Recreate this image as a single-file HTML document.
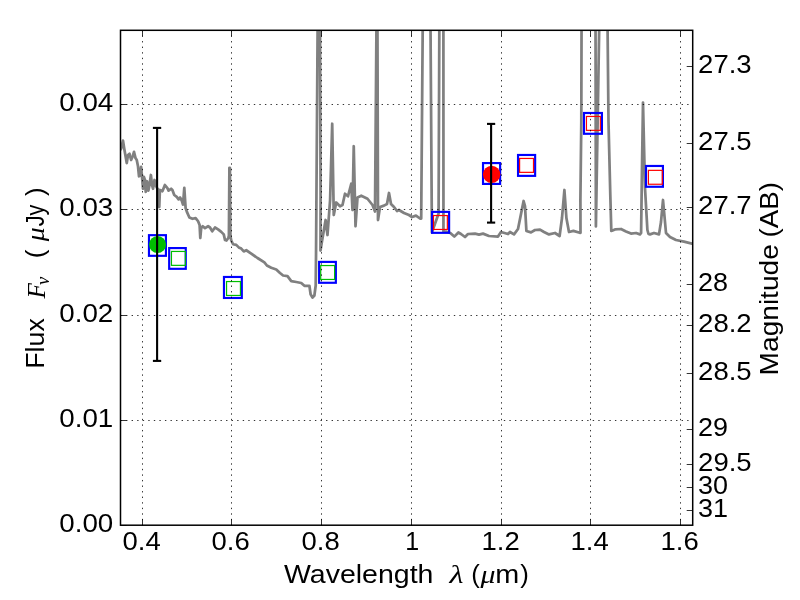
<!DOCTYPE html>
<html lang="en"><head><meta charset="utf-8"><title>SED plot</title>
<style>html,body{margin:0;padding:0;background:#fff;}body{width:800px;height:600px;overflow:hidden;}svg{display:block;will-change:transform;}text{font-family:"Liberation Sans",sans-serif;fill:#000;}.it{font-family:"Liberation Serif",serif;font-style:italic;}</style></head><body>
<svg width="800" height="600" viewBox="0 0 800 600">
<rect x="0" y="0" width="800" height="600" fill="#ffffff"/>
<defs><clipPath id="ax"><rect x="120.5" y="30.3" width="572.2" height="494.9"/></clipPath></defs>
<g clip-path="url(#ax)">
<polyline fill="none" stroke="#808080" stroke-width="2.75" stroke-linejoin="round" stroke-linecap="butt" points="120.3,150 121.1,148.75 123,140.6 124.25,148.75 126.75,163.1 128,155 129.5,153.75 131.1,160 132.75,156.25 134,151.9 135.5,158.1 136.75,160 138,166.25 139,176.25 140.25,175.6 141.1,166.9 142.1,177.5 143,188.75 143.9,176.9 144.9,180 145.75,191.9 147,181.25 148.4,190.6 149.5,185 150.9,175 152,185 153,188.75 154.5,180 155.5,185 157,188 158.5,190 159.25,207 159.9,190 162.4,191.25 164.9,185 167.4,188.1 168.6,190.6 171.1,188.75 172.4,190 174.25,195 176.75,196.9 178.6,199.4 180.1,197.5 181.75,200.6 183,204.5 184.3,187.9 185.6,208 186.9,211.9 189.4,217.5 192.5,218.75 195.6,218.1 198.1,221.25 199.6,225 200.3,238 201.2,228 202.75,226.25 205,228.1 208.1,226.25 210,227.5 212.25,231.25 215,227.5 218.1,229.4 221.25,231.9 223.75,234.4 225,240 226.5,240.5 228.3,238 228.9,236 229.4,167.8 229.9,167.8 230.4,236 231.25,240.5 233.1,244.25 236.25,244.9 238.75,247.4 241.25,248.6 243.75,251.4 246.25,250.25 251.25,253.6 257.5,258 264.4,262.4 266.9,265.5 271.25,267.75 276.25,269.5 280,273 283.1,275.5 287.5,276.1 291.25,281.1 296.25,282 301.25,283 304.4,285.75 309.4,285.75 310.6,294.25 312.5,297.6 314.4,295.5 315.7,285.5 316.05,253 316.45,195 317.4,60 317.75,10 320.0,10 320.1,60 320.6,195 320.5,250.5 321.7,243 325.6,220 327.5,235 330.1,200 332.2,123.75 333.75,215 336.25,202.5 340,206.25 342.5,205 345,193.75 348,196.25 351.25,183.75 352.5,210 353.75,146.25 355.5,226.25 357.5,197.5 361.25,195.75 367.5,198.75 372.5,205 375,211.5 376.6,10 377.4,10 378,220 380,207 384,205.6 387,204 389,193 391,204 394,207 397,211 399,210 404,213 409,215 412,217 416,215.6 420,218.5 421.2,218.5 422.85,10 430.4,10 431.9,232.5 438.6,213.5 439.4,10 443.4,10 443.45,231.5 446,231.5 450.3,233 454.3,236.6 458.4,232.5 461,234 465,237 468,234 475,233.6 479,234.6 483,233.6 489,236 498,236.6 501,232 508,234 510,232 514,234.4 518,229 521,214 523.6,201 525,206 526.4,231 531,232.4 535,230 540,229.6 544,232 549,234.4 555,233 559.6,236 562,218 564.4,190 566.4,218 569,232 573.4,230.9 579.75,232.75 580.5,232.75 580.4,200 581.3,122 581.6,10 595.5,10 595.9,226.4 599.5,10 607.4,10 608.5,122 610.3,195 611.3,230.9 615,229.4 621,229 626,231.4 631,233.6 636,233 640,234.4 641.1,233 641.9,175 643,102.6 645,188 647.4,230 648.5,234 650,234.4 654,233 659,234.4 661,222 663,200 665,222 666,233 670,237 676,240 684,241.6 693,243.8"/>
</g>
<g clip-path="url(#ax)" fill="none">
<rect x="148.97" y="235.17" width="16.95" height="20.65" stroke="#0000ff" stroke-width="2.15"/>
<rect x="169.17" y="248.07" width="16.60" height="20.75" stroke="#0000ff" stroke-width="2.15"/>
<rect x="223.97" y="276.97" width="17.85" height="21.00" stroke="#0000ff" stroke-width="2.15"/>
<rect x="319.12" y="261.90" width="16.74" height="20.88" stroke="#0000ff" stroke-width="2.15"/>
<rect x="432.07" y="211.88" width="17.05" height="20.95" stroke="#0000ff" stroke-width="2.15"/>
<rect x="483.02" y="163.07" width="17.10" height="20.85" stroke="#0000ff" stroke-width="2.15"/>
<rect x="518.03" y="154.97" width="17.10" height="20.90" stroke="#0000ff" stroke-width="2.15"/>
<rect x="583.98" y="112.98" width="17.95" height="20.80" stroke="#0000ff" stroke-width="2.15"/>
<rect x="645.98" y="165.97" width="16.95" height="20.80" stroke="#0000ff" stroke-width="2.15"/>
<circle cx="157.55" cy="244.55" r="8.55" fill="#00be00" stroke="none"/>
<rect x="171.45" y="251.45" width="13.9" height="13.9" stroke="#00be00" stroke-width="1.2"/>
<rect x="226.55" y="281.55" width="13.9" height="13.9" stroke="#00be00" stroke-width="1.2"/>
<rect x="320.70" y="265.55" width="13.9" height="13.9" stroke="#00be00" stroke-width="1.2"/>
<rect x="433.45" y="215.55" width="13.9" height="13.9" stroke="#ff0000" stroke-width="1.2"/>
<circle cx="491.65" cy="174.35" r="8.70" fill="#ff0000" stroke="none"/>
<rect x="519.60" y="158.45" width="13.9" height="13.9" stroke="#ff0000" stroke-width="1.2"/>
<rect x="586.45" y="116.45" width="13.9" height="13.9" stroke="#ff0000" stroke-width="1.2"/>
<rect x="648.40" y="170.35" width="13.9" height="13.9" stroke="#ff0000" stroke-width="1.2"/>
</g>
<g stroke="#000" stroke-width="0.8" stroke-dasharray="1.3889 4.1667" fill="none">
<line x1="142.5" y1="525.8" x2="142.5" y2="30.3"/>
<line x1="231.5" y1="525.8" x2="231.5" y2="30.3"/>
<line x1="321.5" y1="525.8" x2="321.5" y2="30.3"/>
<line x1="411.5" y1="525.8" x2="411.5" y2="30.3"/>
<line x1="501.5" y1="525.8" x2="501.5" y2="30.3"/>
<line x1="590.5" y1="525.8" x2="590.5" y2="30.3"/>
<line x1="680.5" y1="525.8" x2="680.5" y2="30.3"/>
<line x1="120.5" y1="420.5" x2="692.7" y2="420.5"/>
<line x1="120.5" y1="315.5" x2="692.7" y2="315.5"/>
<line x1="120.5" y1="209.5" x2="692.7" y2="209.5"/>
<line x1="120.5" y1="104.5" x2="692.7" y2="104.5"/>
</g>
<g stroke="#000" stroke-width="2.1" fill="none">
<line x1="157.1" y1="127.9" x2="157.1" y2="360.9"/>
<line x1="152.9" y1="127.9" x2="161.2" y2="127.9"/>
<line x1="152.9" y1="360.9" x2="161.2" y2="360.9"/>
<line x1="491.1" y1="123.9" x2="491.1" y2="222.6"/>
<line x1="487.0" y1="123.9" x2="495.2" y2="123.9"/>
<line x1="487.0" y1="222.6" x2="495.2" y2="222.6"/>
</g>
<g stroke="#000" stroke-width="0.8" fill="none">
<line x1="142.5" y1="525.2" x2="142.5" y2="519.2"/>
<line x1="142.5" y1="30.3" x2="142.5" y2="36.3"/>
<line x1="231.5" y1="525.2" x2="231.5" y2="519.2"/>
<line x1="231.5" y1="30.3" x2="231.5" y2="36.3"/>
<line x1="321.5" y1="525.2" x2="321.5" y2="519.2"/>
<line x1="321.5" y1="30.3" x2="321.5" y2="36.3"/>
<line x1="411.5" y1="525.2" x2="411.5" y2="519.2"/>
<line x1="411.5" y1="30.3" x2="411.5" y2="36.3"/>
<line x1="501.5" y1="525.2" x2="501.5" y2="519.2"/>
<line x1="501.5" y1="30.3" x2="501.5" y2="36.3"/>
<line x1="590.5" y1="525.2" x2="590.5" y2="519.2"/>
<line x1="590.5" y1="30.3" x2="590.5" y2="36.3"/>
<line x1="680.5" y1="525.2" x2="680.5" y2="519.2"/>
<line x1="680.5" y1="30.3" x2="680.5" y2="36.3"/>
<line x1="120.5" y1="525.5" x2="126.5" y2="525.5"/>
<line x1="120.5" y1="420.5" x2="126.5" y2="420.5"/>
<line x1="120.5" y1="315.5" x2="126.5" y2="315.5"/>
<line x1="120.5" y1="209.5" x2="126.5" y2="209.5"/>
<line x1="120.5" y1="104.5" x2="126.5" y2="104.5"/>
<line x1="692.7" y1="66.5" x2="686.7" y2="66.5"/>
<line x1="692.7" y1="143.5" x2="686.7" y2="143.5"/>
<line x1="692.7" y1="207.5" x2="686.7" y2="207.5"/>
<line x1="692.7" y1="284.5" x2="686.7" y2="284.5"/>
<line x1="692.7" y1="325.5" x2="686.7" y2="325.5"/>
<line x1="692.7" y1="373.5" x2="686.7" y2="373.5"/>
<line x1="692.7" y1="429.5" x2="686.7" y2="429.5"/>
<line x1="692.7" y1="464.5" x2="686.7" y2="464.5"/>
<line x1="692.7" y1="487.5" x2="686.7" y2="487.5"/>
<line x1="692.7" y1="510.5" x2="686.7" y2="510.5"/>
</g>
<rect x="120.5" y="30.3" width="572.2" height="494.9" fill="none" stroke="#000" stroke-width="1.5"/>
<text x="59.3" y="531.5" font-size="25.0" textLength="54.0" lengthAdjust="spacingAndGlyphs">0.00</text>
<text x="59.3" y="426.5" font-size="25.0" textLength="54.0" lengthAdjust="spacingAndGlyphs">0.01</text>
<text x="59.3" y="321.5" font-size="25.0" textLength="54.0" lengthAdjust="spacingAndGlyphs">0.02</text>
<text x="59.3" y="215.5" font-size="25.0" textLength="54.0" lengthAdjust="spacingAndGlyphs">0.03</text>
<text x="59.3" y="110.5" font-size="25.0" textLength="54.0" lengthAdjust="spacingAndGlyphs">0.04</text>
<text x="122.6" y="549.7" font-size="25.0" textLength="38.2" lengthAdjust="spacingAndGlyphs">0.4</text>
<text x="211.6" y="549.7" font-size="25.0" textLength="38.2" lengthAdjust="spacingAndGlyphs">0.6</text>
<text x="301.6" y="549.7" font-size="25.0" textLength="38.2" lengthAdjust="spacingAndGlyphs">0.8</text>
<text x="412.1" y="549.7" font-size="25.0" text-anchor="middle">1</text>
<text x="481.6" y="549.7" font-size="25.0" textLength="38.2" lengthAdjust="spacingAndGlyphs">1.2</text>
<text x="570.6" y="549.7" font-size="25.0" textLength="38.2" lengthAdjust="spacingAndGlyphs">1.4</text>
<text x="660.6" y="549.7" font-size="25.0" textLength="38.2" lengthAdjust="spacingAndGlyphs">1.6</text>
<text x="698.1" y="72.6" font-size="25.0" textLength="53.6" lengthAdjust="spacingAndGlyphs">27.3</text>
<text x="698.1" y="149.6" font-size="25.0" textLength="53.6" lengthAdjust="spacingAndGlyphs">27.5</text>
<text x="698.1" y="213.6" font-size="25.0" textLength="53.6" lengthAdjust="spacingAndGlyphs">27.7</text>
<text x="698.1" y="290.6" font-size="25.0" textLength="30.0" lengthAdjust="spacingAndGlyphs">28</text>
<text x="698.1" y="331.6" font-size="25.0" textLength="53.6" lengthAdjust="spacingAndGlyphs">28.2</text>
<text x="698.1" y="379.6" font-size="25.0" textLength="53.6" lengthAdjust="spacingAndGlyphs">28.5</text>
<text x="698.1" y="435.6" font-size="25.0" textLength="30.0" lengthAdjust="spacingAndGlyphs">29</text>
<text x="698.1" y="470.6" font-size="25.0" textLength="53.6" lengthAdjust="spacingAndGlyphs">29.5</text>
<text x="698.1" y="493.6" font-size="25.0" textLength="30.0" lengthAdjust="spacingAndGlyphs">30</text>
<text x="698.1" y="516.6" font-size="25.0" textLength="30.0" lengthAdjust="spacingAndGlyphs">31</text>
<text x="284.0" y="582.5" font-size="25.0" textLength="149.4" lengthAdjust="spacingAndGlyphs">Wavelength</text>
<text x="449.5" y="582.5" font-size="26.0" textLength="14.0" lengthAdjust="spacingAndGlyphs" class="it">&#955;</text>
<text x="471.3" y="582.5" font-size="25.0" textLength="8.6" lengthAdjust="spacingAndGlyphs">(</text>
<text x="480.5" y="582.5" font-size="26.0" textLength="15.0" lengthAdjust="spacingAndGlyphs" class="it">&#956;</text>
<text x="495.3" y="582.5" font-size="25.0" textLength="24.0" lengthAdjust="spacingAndGlyphs">m</text>
<text x="520.3" y="582.5" font-size="25.0" textLength="8.6" lengthAdjust="spacingAndGlyphs">)</text>
<text x="0" y="0" transform="translate(44.3 368.8) rotate(-90)" font-size="25.0" textLength="50.6" lengthAdjust="spacingAndGlyphs">Flux</text>
<text x="0" y="0" transform="translate(44.8 298.4) rotate(-90)" font-size="25.0" textLength="15.4" lengthAdjust="spacingAndGlyphs" class="it">F</text>
<text x="0" y="0" transform="translate(48.5 284.9) rotate(-90)" font-size="18.0" textLength="8.2" lengthAdjust="spacingAndGlyphs" class="it">&#957;</text>
<text x="0" y="0" transform="translate(44.3 258.3) rotate(-90)" font-size="25.0" textLength="8.6" lengthAdjust="spacingAndGlyphs">(</text>
<text x="0" y="0" transform="translate(44.3 241.2) rotate(-90)" font-size="26.0" textLength="14.0" lengthAdjust="spacingAndGlyphs" class="it">&#956;</text>
<text x="0" y="0" transform="translate(44.3 226.3) rotate(-90)" font-size="25.0" textLength="21.8" lengthAdjust="spacingAndGlyphs">Jy</text>
<text x="0" y="0" transform="translate(44.3 196.0) rotate(-90)" font-size="25.0" textLength="8.6" lengthAdjust="spacingAndGlyphs">)</text>
<text x="0" y="0" transform="translate(778.2 375.4) rotate(-90)" font-size="25.0" textLength="131.2" lengthAdjust="spacingAndGlyphs">Magnitude</text>
<text x="0" y="0" transform="translate(778.2 237.4) rotate(-90)" font-size="25.0" textLength="55.4" lengthAdjust="spacingAndGlyphs">(AB)</text>
</svg></body></html>
